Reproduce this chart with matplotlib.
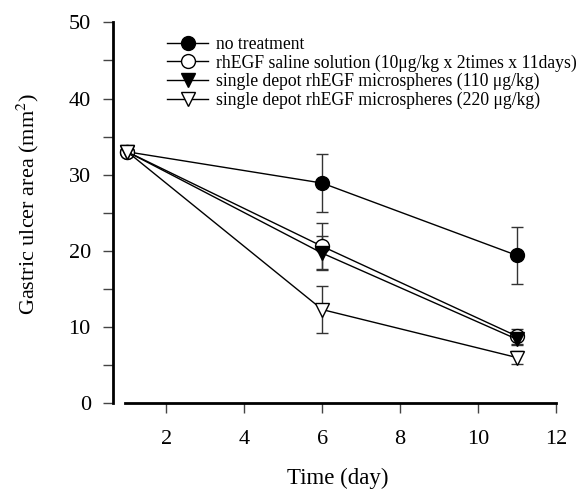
import numpy as np
import matplotlib
matplotlib.use('Agg')
import matplotlib.pyplot as plt
from matplotlib.lines import Line2D

plt.rcParams['font.family'] = ['Liberation Serif', 'DejaVu Serif']
plt.rcParams['mathtext.fontset'] = 'stix'

# days and ulcer area (mm^2), error bars
days = [1, 6, 11]
labels = ['no treatment',
          'rhEGF saline solution (10\u03bcg/kg x 2times x 11days)',
          'single depot rhEGF microspheres (110 \u03bcg/kg)',
          'single depot rhEGF microspheres (220 \u03bcg/kg)']
no_treat = [33.0, 28.9, 19.4]
no_treat_err = [0.0, 3.8, 3.7]
saline = [33.0, 20.6, 8.8]
saline_err = [0.0, 3.0, 1.0]
depot110 = [33.0, 19.7, 8.4]
depot110_err = [0.0, 2.2, 0.8]
depot220 = [33.0, 12.3, 6.0]
depot220_err = [0.0, 3.1, 0.9]

fig = plt.figure(figsize=(5.83, 4.93), dpi=100)
ax = fig.add_axes([113/583, 1-403.3/493, (556-113)/583, 381/493])

series = [(no_treat, no_treat_err, 'o', 'black'),
          (saline, saline_err, 'o', 'white'),
          (depot110, depot110_err, 'v', 'black'),
          (depot220, depot220_err, 'v', 'white')]

handles = []
for (vals, err, mk, fc), lab in zip(series, labels):
    ax.errorbar(days, vals, yerr=err, fmt='-', color='black', lw=1.0,
                marker=mk, markersize=10, markerfacecolor=fc,
                markeredgecolor='black', markeredgewidth=1.0,
                ecolor='#333333', elinewidth=1.0, capsize=4, capthick=1.0,
                clip_on=False)
    handles.append(Line2D([], [], color='black', lw=1.0, marker=mk,
                          markersize=10, markerfacecolor=fc,
                          markeredgecolor='black', label=lab))

ax.set_xlim(0.63, 12)
ax.set_ylim(0, 50)
ax.set_xticks([2, 4, 6, 8, 10, 12])
ax.set_yticks([0, 10, 20, 30, 40, 50])
ax.set_yticks([5, 15, 25, 35, 45], minor=True)

ax.spines['top'].set_visible(False)
ax.spines['right'].set_visible(False)
ax.spines['left'].set_linewidth(2)
ax.spines['bottom'].set_linewidth(2)
ax.spines['bottom'].set_bounds(0.95, 12)

ax.tick_params(axis='both', which='major', direction='out', length=7,
               width=1, color='#444444', labelsize=16)
ax.tick_params(axis='y', which='minor', direction='out', length=7,
               width=1, color='#444444')
ax.tick_params(axis='y', which='major', pad=9)
ax.tick_params(axis='x', which='major', pad=12)

ax.set_xlabel('Time (day)', fontsize=16.5)
ax.set_ylabel('Gastric ulcer area (mm$^2$)', fontsize=16)
ax.xaxis.set_label_coords(0.507, -0.17)
ax.yaxis.set_label_coords(-0.163, 0.523)

ax.legend(handles=handles, loc='upper left',
          bbox_to_anchor=(167/583, 1-36/493),
          bbox_transform=fig.transFigure, frameon=False, fontsize=12.7,
          handlelength=2.35, handletextpad=0.45, labelspacing=0.08,
          borderpad=0, borderaxespad=0)

fig.savefig('out.png', dpi=100)
